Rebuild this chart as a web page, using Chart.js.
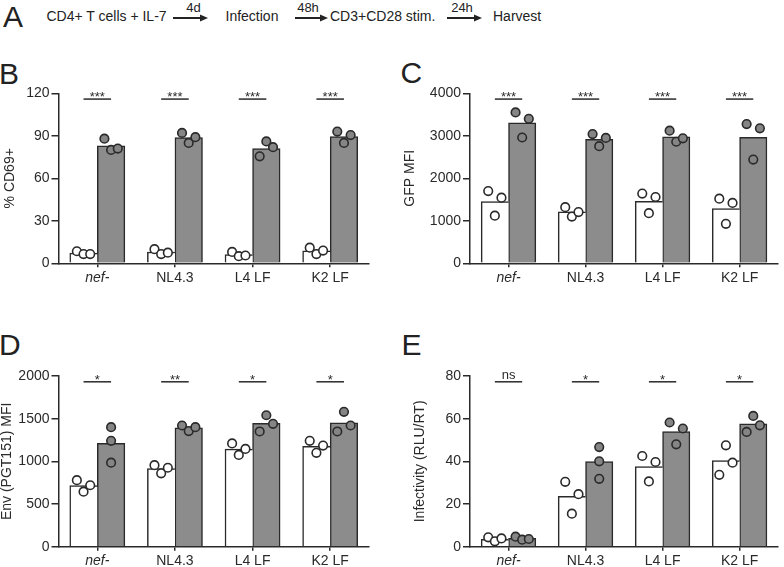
<!DOCTYPE html>
<html>
<head>
<meta charset="utf-8">
<script src="https://cdn.jsdelivr.net/npm/chart.js@4.4.1/dist/chart.umd.min.js"></script>
<style>
  html, body { margin: 0; padding: 0; background: #fff; }
  body { width: 784px; height: 567px; position: relative; overflow: hidden;
         font-family: "Liberation Sans", Arial, sans-serif; color: #222; }
  .t { position: absolute; white-space: nowrap; line-height: 1; }
  .letter { font-size: 30px; }
  .step { font-size: 14px; top: 9px; }
  .dur { font-size: 13px; top: 1px; transform: translateX(-50%); }
  canvas { position: absolute; }
  svg { position: absolute; left: 0; top: 0; }
</style>
</head>
<body>

<!-- Panel A: protocol timeline -->
<div class="t letter" style="left:3px;top:1.5px;">A</div>
<div class="t step" style="left:46.5px;">CD4+ T cells + IL-7</div>
<div class="t dur" style="left:193.5px;">4d</div>
<div class="t step" style="left:225.5px;">Infection</div>
<div class="t dur" style="left:308px;">48h</div>
<div class="t step" style="left:330px;">CD3+CD28 stim.</div>
<div class="t dur" style="left:462px;">24h</div>
<div class="t step" style="left:493px;">Harvest</div>
<svg width="784" height="30">
  <g stroke="#222" stroke-width="2" fill="#222">
    <line x1="173" y1="18" x2="201" y2="18"/><polygon points="200,14.5 208,18 200,21.5" stroke="none"/>
    <line x1="295" y1="18" x2="321" y2="18"/><polygon points="320,14.5 328,18 320,21.5" stroke="none"/>
    <line x1="447" y1="18" x2="475" y2="18"/><polygon points="474,14.5 482,18 474,21.5" stroke="none"/>
  </g>
</svg>

<div class="t letter" style="left:-1px;top:58.5px;">B</div>
<div class="t letter" style="left:400.5px;top:57.5px;">C</div>
<div class="t letter" style="left:-1px;top:329.5px;">D</div>
<div class="t letter" style="left:401.5px;top:329.5px;">E</div>

<canvas id="panel-b" width="392" height="230" style="left:0;top:60px;"></canvas>
<canvas id="panel-c" width="392" height="230" style="left:392px;top:60px;"></canvas>
<canvas id="panel-d" width="392" height="267" style="left:0;top:300px;"></canvas>
<canvas id="panel-e" width="392" height="267" style="left:392px;top:300px;"></canvas>

<script>
// ── Data ──
const categories = ['nef-', 'NL4.3', 'L4 LF', 'K2 LF'];

// B: % CD69+
const cd69Ticks = [0, 30, 60, 90, 120];
const cd69Unstim = [7.2, 8, 6.2, 8.8];
const cd69Stim = [83, 88.7, 81, 89.5];
const cd69UnstimPts = [[8.5, 6.5, 6.5], [10, 6.5, 7.5], [8, 5, 5.5], [11, 6.5, 9]];
const cd69StimPts = [[88, 80, 81], [92, 85, 89], [75.5, 86, 82], [93, 85, 90.5]];
const cd69Sig = ['***', '***', '***', '***'];

// C: GFP MFI
const gfpTicks = [0, 1000, 2000, 3000, 4000];
const gfpUnstim = [1450, 1210, 1460, 1290];
const gfpStim = [3305, 2915, 2975, 2965];
const gfpUnstimPts = [[1700, 1120, 1545], [1320, 1100, 1205], [1640, 1180, 1560], [1520, 930, 1420]];
const gfpStimPts = [[3550, 2960, 3400], [3040, 2755, 2950], [3120, 2860, 2940], [3275, 2440, 3175]];
const gfpSig = ['***', '***', '***', '***'];

// D: Env (PGT151) MFI
const envTicks = [0, 500, 1000, 1500, 2000];
const envUnstim = [716, 914, 1143, 1176];
const envStim = [1212, 1392, 1445, 1452];
const envUnstimPts = [[780, 645, 720], [955, 860, 925], [1210, 1075, 1145], [1240, 1100, 1185]];
const envStimPts = [[1400, 1240, 985], [1420, 1355, 1400], [1350, 1540, 1440], [1350, 1580, 1420]];
const envSig = ['*', '**', '*', '*'];

// E: Infectivity (RLU/RT)
const infTicks = [0, 20, 40, 60, 80];
const infUnstim = [3.4, 23.6, 37.6, 40.4];
const infStim = [3.9, 39.9, 54, 57.6];
const infUnstimPts = [[4.4, 2.5, 3.9], [30.4, 15.5, 24.6], [42.5, 30.6, 39.7], [33.7, 47.5, 39.4]];
const infStimPts = [[4.7, 3.3, 3.6], [46.7, 40, 31.8], [58.2, 48, 55.4], [53.8, 61.3, 56.9]];
const infSig = ['ns', '*', '*', '*'];

// which replicate sets are spread sideways (0 = stacked in a column)
const envStimSpread = [0, 1, 1, 1];
const infStimSpread = [1, 0, 1, 1];
const allSpread = [1, 1, 1, 1];

// ── Styling ──
const INK = '#2a2a2a';
const GREY = '#8c8c8c';
const HALF = 0.1775;   // bar centre offset, in category units
const JIT = 0.086;     // replicate spacing, in category units

Chart.defaults.font.family = '"Liberation Sans", Arial, sans-serif';
Chart.defaults.color = '#2a2a2a';

// bars sit left (-1) / right (+1) of each category centre on the linear helper axis
function barPts(vals, side) {
  return vals.map((v, i) => ({ x: i + side * HALF, y: v }));
}

function scatterPts(groups, side, spread) {
  const out = [];
  groups.forEach((vals, i) => {
    vals.forEach((v, j) => {
      const slot = spread[i] ? j - 1 : 0;
      out.push({ x: i + side * HALF + slot * JIT, y: v });
    });
  });
  return out;
}

// significance bars over each pair
const sigPlugin = {
  id: 'sig',
  afterDatasetsDraw(chart, args, opts) {
    const { ctx } = chart;
    const xs = chart.scales.xs, y = chart.scales.y;
    const yp = y.getPixelForValue(y.max * 0.966);
    ctx.save();
    ctx.strokeStyle = INK;
    ctx.fillStyle = INK;
    ctx.lineWidth = 1.5;
    opts.labels.forEach((lab, i) => {
      const x1 = xs.getPixelForValue(i - HALF);
      const x2 = xs.getPixelForValue(i + HALF);
      ctx.beginPath();
      ctx.moveTo(x1, yp);
      ctx.lineTo(x2, yp);
      ctx.stroke();
      ctx.textAlign = 'center';
      ctx.textBaseline = 'alphabetic';
      if (lab === 'ns') {
        ctx.font = '13px "Liberation Sans", Arial, sans-serif';
        ctx.fillText(lab, (x1 + x2) / 2, yp - 2.5);
      } else {
        ctx.font = '13px "Liberation Sans", Arial, sans-serif';
        ctx.fillText(lab, (x1 + x2) / 2, yp + 1.8);
      }
    });
    ctx.restore();
  }
};

function makePanel(id, p) {
  const ticks = p.ticks;
  new Chart(document.getElementById(id), {
    type: 'bar',
    data: {
      labels: categories,
      datasets: [
        { type: 'scatter', xAxisID: 'xs', data: scatterPts(p.unstimPts, -1, p.unstimSpread),
          backgroundColor: '#fff', borderColor: INK, pointRadius: 4.3, borderWidth: 1.6, order: 1 },
        { type: 'scatter', xAxisID: 'xs', data: scatterPts(p.stimPts, 1, p.stimSpread),
          backgroundColor: '#858585', borderColor: INK, pointRadius: 4.3, borderWidth: 1.6, order: 1 },
        { xAxisID: 'xs', data: barPts(p.unstim, -1), backgroundColor: '#fff', borderColor: INK,
          borderWidth: { left: 1.5, top: 1.5, right: 0, bottom: 0 }, order: 2,
          grouped: false, categoryPercentage: 1, barPercentage: 1 },
        { xAxisID: 'xs', data: barPts(p.stim, 1), backgroundColor: GREY, borderColor: INK,
          borderWidth: { left: 1.5, top: 1.5, right: 1.5, bottom: 0 }, order: 2,
          grouped: false, categoryPercentage: 1, barPercentage: 1 }
      ]
    },
    options: {
      responsive: false,
      animation: false,
      layout: { padding: { top: p.padTop, right: p.padRight, left: 0, bottom: 0 } },
      plugins: { legend: { display: false }, tooltip: { enabled: false }, sig: { labels: p.sig } },
      scales: {
        x: {
          type: 'category', offset: true,
          grid: { offset: false, drawOnChartArea: false, tickLength: 4, color: INK, lineWidth: 1.5 },
          border: { color: INK, width: 1.5 },
          ticks: {
            padding: 2, color: INK,
            font: ctx => ({ size: 14, style: ctx.index === 0 ? 'italic' : 'normal' })
          },
          afterFit: s => { s.height = p.xHeight; }
        },
        xs: { type: 'linear', display: false, offset: false, grid: { offset: false },
              min: -0.5, max: 3.5, ticks: { stepSize: 1 } },
        y: {
          min: ticks[0], max: ticks[ticks.length - 1],
          afterBuildTicks: s => { s.ticks = ticks.map(v => ({ value: v })); },
          grid: { drawOnChartArea: false, tickLength: 7, color: INK, lineWidth: 1.5 },
          border: { color: INK, width: 1.5 },
          ticks: { padding: 2, color: INK, font: { size: 14 }, callback: v => String(v) },
          title: { display: true, text: p.title, color: INK,
                   font: { size: 14, lineHeight: 1 }, padding: { top: p.titlePad, bottom: 0 } },
          afterFit: s => { s.width = p.yWidth; }
        }
      }
    },
    plugins: [sigPlugin]
  });
}

makePanel('panel-b', {
  ticks: cd69Ticks, unstim: cd69Unstim, stim: cd69Stim,
  unstimPts: cd69UnstimPts, stimPts: cd69StimPts, unstimSpread: allSpread, stimSpread: allSpread,
  sig: cd69Sig, title: '% CD69+', titlePad: 3,
  padTop: 33.3, padRight: 23, xHeight: 26.7, yWidth: 58.5
});
makePanel('panel-c', {
  ticks: gfpTicks, unstim: gfpUnstim, stim: gfpStim,
  unstimPts: gfpUnstimPts, stimPts: gfpStimPts, unstimSpread: allSpread, stimSpread: allSpread,
  sig: gfpSig, title: 'GFP MFI', titlePad: 11,
  padTop: 33.3, padRight: 3, xHeight: 26.7, yWidth: 78
});
makePanel('panel-d', {
  ticks: envTicks, unstim: envUnstim, stim: envStim,
  unstimPts: envUnstimPts, stimPts: envStimPts, unstimSpread: allSpread, stimSpread: envStimSpread,
  sig: envSig, title: 'Env (PGT151) MFI', titlePad: 0,
  padTop: 76, padRight: 23, xHeight: 20.3, yWidth: 58.5
});
makePanel('panel-e', {
  ticks: infTicks, unstim: infUnstim, stim: infStim,
  unstimPts: infUnstimPts, stimPts: infStimPts, unstimSpread: allSpread, stimSpread: infStimSpread,
  sig: infSig, title: 'Infectivity (RLU/RT)', titlePad: 21,
  padTop: 76, padRight: 2, xHeight: 20.3, yWidth: 78
});
</script>
</body>
</html>
